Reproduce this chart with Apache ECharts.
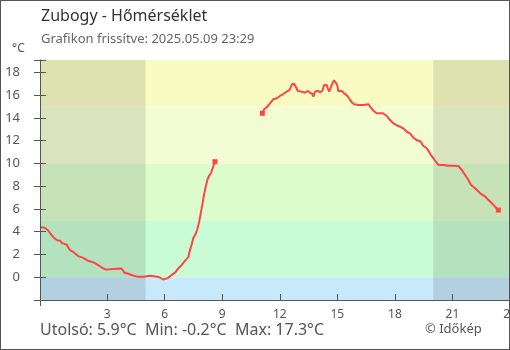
<!DOCTYPE html>
<html>
<head>
<meta charset="utf-8">
<title>Zubogy - Hőmérséklet</title>
<script src="https://cdn.jsdelivr.net/npm/echarts@6/dist/echarts.min.js"></script>
<style>
  html, body { margin: 0; padding: 0; background: #fff; }
  #wrap { position: relative; width: 510px; height: 350px; overflow: hidden; }
  #chart { width: 510px; height: 350px; }
  #frame { position: absolute; left: 0; top: 0; width: 510px; height: 350px;
           box-sizing: border-box; border: 1px solid #555; pointer-events: none; }
</style>
</head>
<body>
<div id="wrap"><div id="chart"></div><div id="frame"></div></div>
<script>
// Measurement times (hours of the day) and temperatures (°C); null marks the data gap
const hours = [
  -0.5, -0.25, -0.07, 0.06, 0.23, 0.4, 0.55, 0.65, 0.9, 1.05, 1.25, 1.5, 1.75, 2.0,
  2.3, 2.55, 2.72, 2.9, 3.15, 3.25, 3.75, 3.9, 4.1, 4.35, 4.55, 4.9, 5.0, 5.25, 5.35,
  5.7, 5.78, 5.92, 6.02, 6.16, 6.25, 6.36, 6.54, 6.71, 6.89, 7.06, 7.23, 7.32, 7.41,
  7.49, 7.63, 7.7, 7.8, 7.88, 7.96, 8.05, 8.14, 8.22, 8.31, 8.42, 8.53, 8.62,
  9.8,
  11.09, 11.18, 11.32, 11.49, 11.66, 11.84, 12.01, 12.18, 12.36, 12.5, 12.57, 12.65,
  12.76, 12.85, 12.94, 13.14, 13.31, 13.44, 13.58, 13.7, 13.75, 13.84, 13.98, 14.1,
  14.22, 14.31, 14.38, 14.45, 14.5, 14.58, 14.67, 14.76, 14.83, 14.93, 15.0, 15.05,
  15.23, 15.35, 15.49, 15.61, 15.75, 15.87, 16.09, 16.36, 16.62, 16.71, 16.88, 17.05,
  17.37, 17.58, 17.75, 17.92, 18.18, 18.44, 18.62, 18.79, 18.96, 19.13, 19.35, 19.48,
  19.66, 19.78, 19.87, 20.01, 20.13, 20.27, 20.53, 20.79, 21.05, 21.31, 21.49, 21.66,
  21.83, 21.97, 22.18, 22.45, 22.71, 22.88, 23.05, 23.22, 23.39
];
const temps = [
  4.4, 4.35, 4.1, 3.8, 3.45, 3.25, 3.2, 3.0, 2.85, 2.4, 2.2, 1.85, 1.7, 1.45,
  1.3, 1.05, 0.85, 0.68, 0.7, 0.77, 0.77, 0.4, 0.3, 0.15, 0.05, 0.05, 0.12, 0.12, 0.05,
  0.02, -0.1, -0.2, -0.1, -0.08, 0.05, 0.2, 0.4, 0.78, 1.08, 1.43, 1.76, 2.4, 2.9,
  3.42, 3.86, 4.21, 4.88, 5.62, 6.35, 7.23, 7.95, 8.54, 8.89, 9.18, 9.71, 10.15,
  null,
  14.4, 14.75, 14.93, 15.28, 15.63, 15.72, 15.92, 16.09, 16.3, 16.44, 16.68, 16.97,
  16.97, 16.8, 16.36, 16.3, 16.21, 16.36, 16.21, 16.09, 15.86, 16.3, 16.38, 16.24,
  16.38, 16.88, 17.03, 16.88, 16.59, 16.3, 16.73, 17.08, 17.3, 17.08, 16.8, 16.36,
  16.36, 16.15, 16.0, 15.72, 15.36, 15.19, 15.13, 15.13, 15.19, 14.98, 14.63, 14.4,
  14.4, 14.16, 13.81, 13.52, 13.28, 13.08, 12.78, 12.64, 12.26, 12.05, 11.9, 11.53,
  11.33, 11.03, 10.74, 10.45, 10.15, 9.86, 9.86, 9.8, 9.8, 9.77, 9.42, 8.98,
  8.54, 8.1, 7.81, 7.37, 7.08, 6.79, 6.5, 6.2, 5.9
];

// Axis ticks and labels
const xTickHours = [3, 6, 9, 12, 15, 18, 21, 24];
const yTickLabels = [0, 2, 4, 6, 8, 10, 12, 14, 16, 18];

// Temperature colour zones [from, to, colour] and night periods [from, to]
const tempZones = [
  [-2, 0, '#c8e8fb'],
  [0, 5, '#c9fbd4'],
  [5, 10, '#ddfccc'],
  [10, 15, '#f2fdd3'],
  [15, 19.08, '#f8fcc3']
];
const nightPeriods = [[-0.5, 5], [20, 24]];

const titleText = 'Zubogy - Hőmérséklet';
const updatedText = 'Grafikon frissítve: 2025.05.09 23:29';
const creditText = '© Időkép';

// Summary values come straight from the measurements
const valid = temps.filter(v => v !== null);
const fmt = v => v.toFixed(1) + '°C';
const summaryText = 'Utolsó: ' + fmt(valid[valid.length - 1]) +
  '  Min: ' + fmt(Math.min(...valid)) + '  Max: ' + fmt(Math.max(...valid));

// Build line data; the ends of each continuous run get a small square marker
const lineData = hours.map((h, i) => {
  const v = temps[i];
  const isEnd = v !== null && (i === hours.length - 1 || temps[i + 1] === null ||
                               (i > 0 && temps[i - 1] === null));
  return isEnd && i > 0
    ? { value: [h, v], symbol: 'rect', symbolSize: 5 }
    : { value: [h, v], symbol: 'none' };
});

const FONT = 'Noto Sans';
const AXIS_COLOR = '#555';

const chart = echarts.init(document.getElementById('chart'), null, { renderer: 'canvas' });
chart.setOption({
  animation: false,
  backgroundColor: '#fff',
  textStyle: { fontFamily: FONT },
  grid: { left: 40, right: 0, top: 60, bottom: 50, containLabel: false,
          outerBoundsMode: 'none' },
  xAxis: [
    {
      type: 'value', min: -0.5, max: 24, position: 'bottom', z: 5,
      axisLine: { show: true, onZero: false, lineStyle: { color: AXIS_COLOR, width: 1 } },
      axisTick: { show: true, inside: true, length: 6, customValues: xTickHours,
                  lineStyle: { color: AXIS_COLOR } },
      axisLabel: { show: true, customValues: xTickHours, margin: 9, color: '#555',
                   fontSize: 12, fontFamily: FONT, hideOverlap: false },
      splitLine: { show: false }
    },
    {
      type: 'value', min: -0.5, max: 24, position: 'bottom', z: 5,
      axisLine: { show: false, onZero: false },
      axisTick: { show: true, inside: false, length: 6, customValues: [-0.5],
                  lineStyle: { color: AXIS_COLOR } },
      axisLabel: { show: false },
      splitLine: { show: false }
    }
  ],
  yAxis: [
    {
      type: 'value', min: -2, max: 19.08, interval: 2, position: 'left', z: 5,
      axisLine: { show: true, onZero: false, lineStyle: { color: AXIS_COLOR, width: 1 } },
      axisTick: { show: true, inside: false, length: 6, lineStyle: { color: AXIS_COLOR } },
      axisLabel: { show: true, customValues: yTickLabels, margin: 20, color: '#555',
                   fontSize: 13, fontFamily: FONT },
      splitLine: { show: false }
    },
    {
      type: 'value', min: -2, max: 19.08, interval: 2, position: 'left', z: 5,
      axisLine: { show: false, onZero: false },
      axisTick: { show: true, inside: true, length: 6, lineStyle: { color: AXIS_COLOR } },
      axisLabel: { show: false },
      splitLine: { show: false }
    }
  ],
  series: [
    {
      type: 'line',
      xAxisIndex: 0,
      yAxisIndex: 0,
      data: lineData,
      connectNulls: false,
      showSymbol: true,
      showAllSymbol: true,
      symbol: 'none',
      itemStyle: { color: '#ff4444' },
      lineStyle: { color: '#ff4444', width: 2 },
      z: 3,
      markArea: {
        silent: true,
        z: 1,
        data: [
          ...tempZones.map(([a, b, c]) => [
            { yAxis: a, itemStyle: { color: c } },
            { yAxis: b }
          ]),
          ...nightPeriods.map(([a, b]) => [
            { xAxis: a, itemStyle: { color: 'rgba(0,0,0,0.1)' } },
            { xAxis: b }
          ])
        ]
      }
    }
  ],
  graphic: [
    { type: 'text', left: 41, top: 8,
      style: { text: titleText, fill: '#333', font: '16px "Noto Sans"' } },
    { type: 'text', left: 41, top: 33,
      style: { text: updatedText, fill: '#666', font: '13px "Noto Sans"' } },
    { type: 'text', left: 12, top: 43,
      style: { text: '°C', fill: '#555', font: '12px "Noto Sans"' } },
    { type: 'text', left: 40, top: 322,
      style: { text: summaryText, fill: '#555', font: '16px "Noto Sans"' } },
    { type: 'text', left: 425, top: 323,
      style: { text: creditText, fill: '#555', font: '13px "Noto Sans"' } }
  ]
});
</script>
</body>
</html>
